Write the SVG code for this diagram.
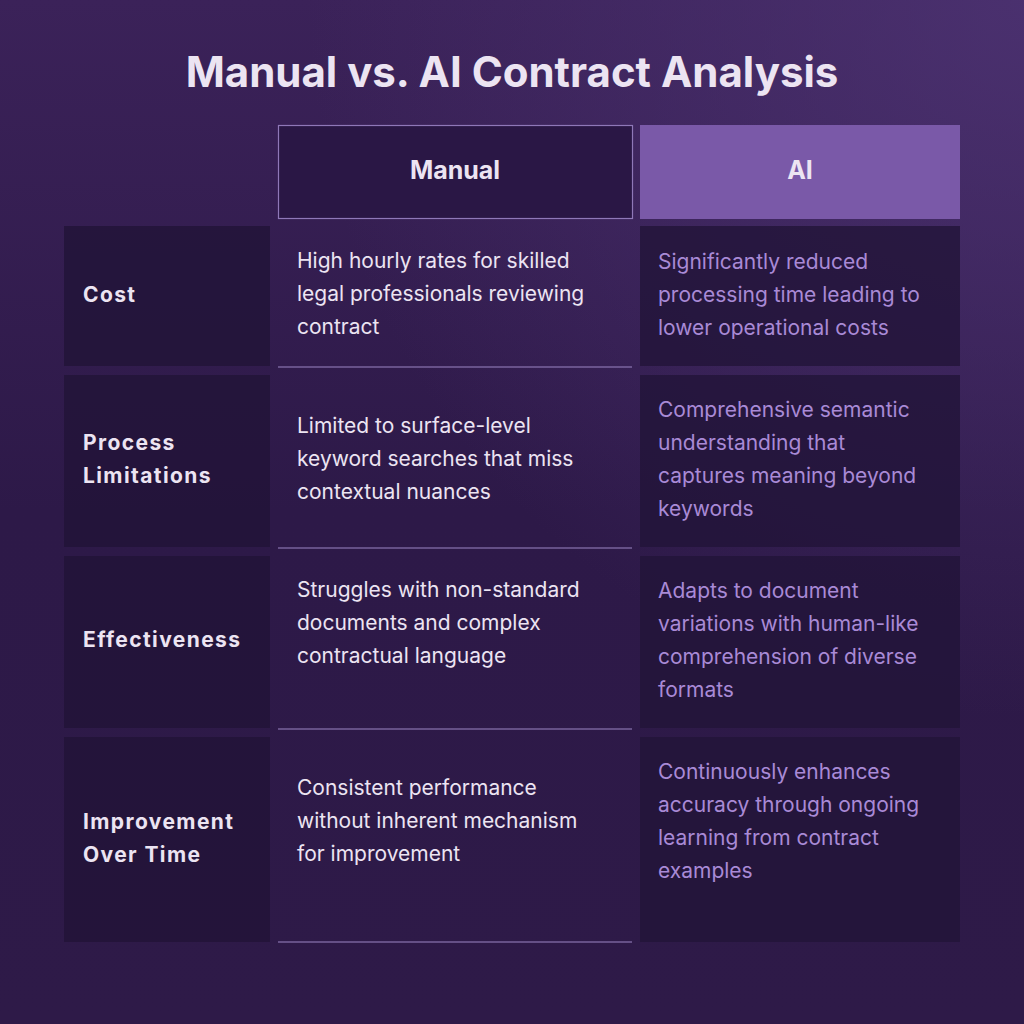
<svg xmlns="http://www.w3.org/2000/svg" width="1024" height="1024" viewBox="0 0 1024 1024">
<defs>
<linearGradient id="bg" x1="0" y1="0" x2="0" y2="1">
<stop offset="0" stop-color="#3b2259"/><stop offset="0.5" stop-color="#2d1948"/><stop offset="1" stop-color="#2e1a48"/>
</linearGradient>
<radialGradient id="glow" cx="1" cy="0" r="0.7">
<stop offset="0" stop-color="#4e3474" stop-opacity="0.8"/><stop offset="1" stop-color="#4e3474" stop-opacity="0"/>
</radialGradient>
<style>
.lab{fill:#221438;opacity:0.85}
.ai{fill:#221438;opacity:0.8}
.lt{font-family:Inter,"DejaVu Sans",sans-serif;font-size:21px;font-weight:700;fill:#ece4f2;letter-spacing:1.4px}
.mt{font-family:Inter,"Liberation Sans",sans-serif;font-size:21px;fill:#ece4f2}
.ht{font-family:Inter,"Liberation Sans",sans-serif;font-size:25px;font-weight:700;fill:#ece4f2}
.at{font-family:Inter,"Liberation Sans",sans-serif;font-size:21px;fill:#a98ad6}
.ln{stroke:#9c86c4;stroke-width:1.2}
</style>
</defs>
<rect width="1024" height="1024" fill="url(#bg)"/>
<rect width="1024" height="1024" fill="url(#glow)"/>
<text x="512" y="87" text-anchor="middle" font-family="Inter,'Liberation Sans',sans-serif" font-size="42" font-weight="700" fill="#ece4f2">Manual vs. AI Contract Analysis</text>
<g id="header-manual"><rect x="278.5" y="125.5" width="354" height="93" fill="#2a1745" stroke="#8f78b8" stroke-width="1.2"/><text x="455" y="179" text-anchor="middle" class="ht">Manual</text></g>
<g id="header-ai"><rect x="640" y="125" width="320" height="94" fill="#7a59a8"/><text x="800" y="179" text-anchor="middle" class="ht">AI</text></g>
<g id="row-cost">
<rect class="lab" x="64" y="226" width="206" height="140"/><text class="lt" x="83" y="302">Cost</text>
<text class="mt" x="297"><tspan x="297" y="268">High hourly rates for skilled</tspan><tspan x="297" y="301">legal professionals reviewing</tspan><tspan x="297" y="334">contract</tspan></text>
<rect class="ai" x="640" y="226" width="320" height="140"/>
<text class="at"><tspan x="658" y="269">Significantly reduced</tspan><tspan x="658" y="302">processing time leading to</tspan><tspan x="658" y="335">lower operational costs</tspan></text>
</g>
<g id="row-process">
<rect class="lab" x="64" y="375" width="206" height="172"/><text class="lt"><tspan x="83" y="450">Process</tspan><tspan x="83" y="483">Limitations</tspan></text>
<text class="mt"><tspan x="297" y="433">Limited to surface-level</tspan><tspan x="297" y="466">keyword searches that miss</tspan><tspan x="297" y="499">contextual nuances</tspan></text>
<rect class="ai" x="640" y="375" width="320" height="172"/>
<text class="at"><tspan x="658" y="417">Comprehensive semantic</tspan><tspan x="658" y="450">understanding that</tspan><tspan x="658" y="483">captures meaning beyond</tspan><tspan x="658" y="516">keywords</tspan></text>
</g>
<g id="row-effect">
<rect class="lab" x="64" y="556" width="206" height="172"/><text class="lt" x="83" y="647">Effectiveness</text>
<text class="mt"><tspan x="297" y="597">Struggles with non-standard</tspan><tspan x="297" y="630">documents and complex</tspan><tspan x="297" y="663">contractual language</tspan></text>
<rect class="ai" x="640" y="556" width="320" height="172"/>
<text class="at"><tspan x="658" y="598">Adapts to document</tspan><tspan x="658" y="631">variations with human-like</tspan><tspan x="658" y="664">comprehension of diverse</tspan><tspan x="658" y="697">formats</tspan></text>
</g>
<g id="row-improve">
<rect class="lab" x="64" y="737" width="206" height="205"/><text class="lt"><tspan x="83" y="829">Improvement</tspan><tspan x="83" y="862">Over Time</tspan></text>
<text class="mt"><tspan x="297" y="795">Consistent performance</tspan><tspan x="297" y="828">without inherent mechanism</tspan><tspan x="297" y="861">for improvement</tspan></text>
<rect class="ai" x="640" y="737" width="320" height="205"/>
<text class="at"><tspan x="658" y="779">Continuously enhances</tspan><tspan x="658" y="812">accuracy through ongoing</tspan><tspan x="658" y="845">learning from contract</tspan><tspan x="658" y="878">examples</tspan></text>
</g>
<g id="connectors">
<line class="ln" x1="278" y1="367" x2="632" y2="367"/>
<line class="ln" x1="278" y1="548" x2="632" y2="548"/>
<line class="ln" x1="278" y1="729" x2="632" y2="729"/>
<line class="ln" x1="278" y1="942" x2="632" y2="942"/>
</g>
</svg>
